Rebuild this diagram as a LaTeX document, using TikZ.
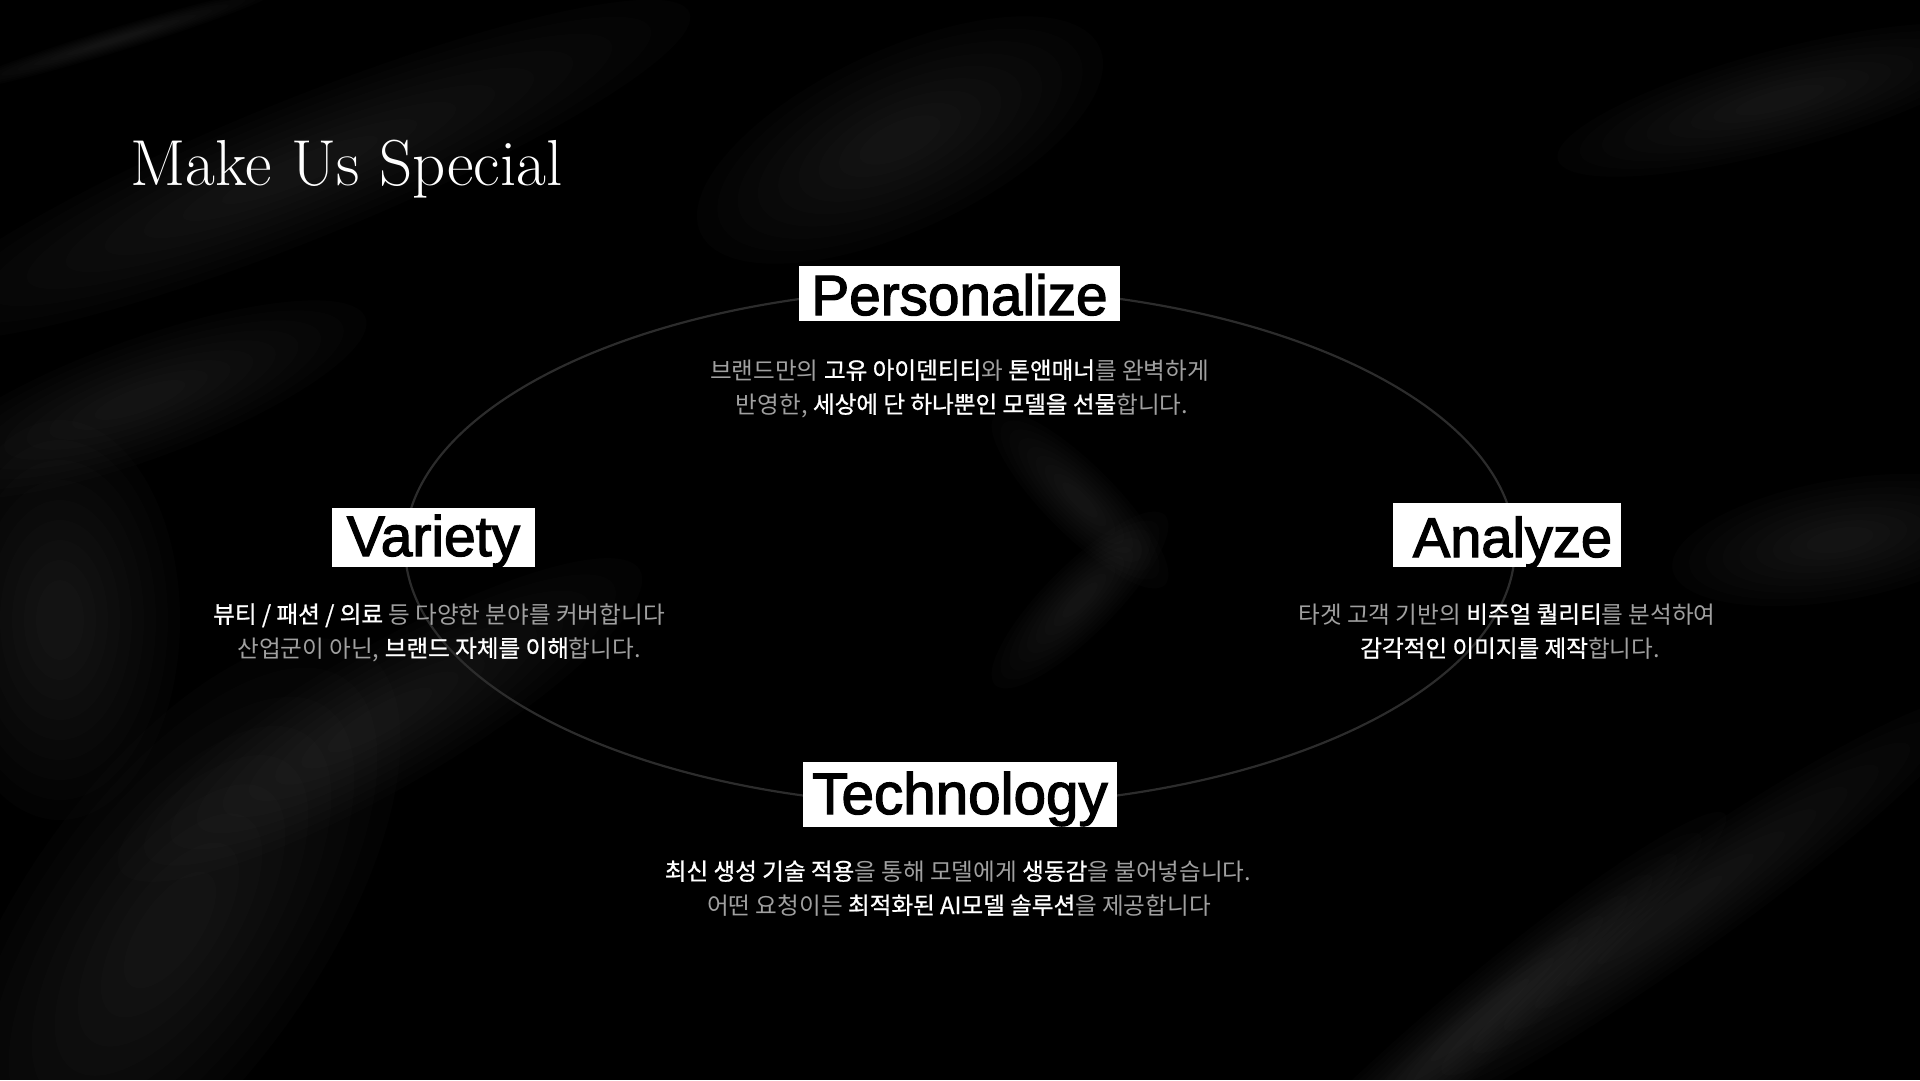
\documentclass[tikz,border=0pt]{standalone}
\usepackage{fontspec}
\newfontfamily\kr{Noto Sans CJK KR}
\newfontfamily\krm{Noto Sans CJK KR}[FakeBold=0.9]
\newfontfamily\hd{Liberation Sans}[FakeBold=2.2]
\definecolor{bodygray}{HTML}{A0A0A0}
\definecolor{ringgray}{HTML}{2C2C2C}
\tikzset{
  hbox/.style={fill=white, text=black, inner xsep=0pt, inner ysep=0pt, anchor=base},
  bodytext/.style={text=bodygray, font=\kr\fontsize{23.6}{28}\selectfont, inner sep=0pt, anchor=base},
  glow/.style={fill=white, opacity=0.011},
}
\newcommand{\hl}[1]{{\krm\color{white}#1}}
\newcommand{\softblob}[5]{%
  \foreach \blobk in {1,0.9,0.8,0.7,0.6,0.5,0.4,0.3,0.2}{%
    \fill[glow, rotate around={#5:(#1,#2)}] (#1,#2) ellipse [x radius=\blobk*#3 pt, y radius=\blobk*#4 pt];
  }}
\begin{document}
\begin{tikzpicture}[x=1pt,y=-1pt]
  \path[use as bounding box, fill=black] (0,0) rectangle (1920,1080);
  % soft satin background
  \softblob{115}{40}{170}{12}{17}
  \softblob{300}{170}{420}{70}{22}
  \softblob{140}{400}{240}{60}{20}
  \softblob{170}{930}{340}{150}{55}
  \softblob{380}{720}{300}{70}{30}
  \softblob{60}{620}{120}{200}{0}
  \softblob{900}{140}{220}{90}{25}
  \softblob{1780}{100}{230}{50}{15}
  \softblob{1840}{540}{170}{60}{10}
  \softblob{1660}{920}{380}{50}{35}
  \softblob{1480}{1020}{320}{40}{40}
  \softblob{1080}{500}{120}{35}{-45}
  \softblob{1080}{600}{120}{35}{45}
  % ring
  \draw[ringgray, line width=2.2pt] (960,547) ellipse [x radius=555pt, y radius=259pt];
  % title
  \node[font=\fontsize{65}{78}\selectfont, text=white, anchor=base west, inner sep=0pt] (title) at (130,185) {Make Us Special};
  % headings
  \node[hbox, font=\hd\fontsize{56.7}{60}\selectfont, minimum width=321pt, text height=49pt, text depth=6pt] (pers) at (959.5,315) {Personalize};
  \node[hbox, font=\hd\fontsize{57}{60}\selectfont, minimum width=203pt, text height=48pt, text depth=11pt] (vari) at (433.5,556) {Variety};
  \node[hbox, font=\hd\fontsize{56}{60}\selectfont, minimum width=228pt, text height=54pt, text depth=10pt] (anal) at (1507,557) {\hspace*{11pt}Analyze};
  \node[hbox, font=\hd\fontsize{58.4}{60}\selectfont, minimum width=314pt, text height=52pt, text depth=13pt] (tech) at (960,814) {Technology};
  % body texts
  \node[bodytext] (pers1) at (959.5,379) {브랜드만의 \hl{고유 아이덴티티}와 \hl{톤앤매너}를 완벽하게};
  \node[bodytext] (pers2) at (962,413) {반영한, \hl{세상에 단 하나뿐인 모델을 선물}합니다.};
  \node[bodytext] (vari1) at (439,623) {\hl{뷰티 / 패션 / 의료} 등 다양한 분야를 커버합니다};
  \node[bodytext] (vari2) at (439,657) {산업군이 아닌, \hl{브랜드 자체를 이해}합니다.};
  \node[bodytext] (anal1) at (1507,623) {타겟 고객 기반의 \hl{비주얼 퀄리티}를 분석하여};
  \node[bodytext] (anal2) at (1510,657) {\hl{감각적인 이미지를 제작}합니다.};
  \node[bodytext] (tech1) at (958,880) {\hl{최신 생성 기술 적용}을 통해 모델에게 \hl{생동감}을 불어넣습니다.};
  \node[bodytext] (tech2) at (959,914) {어떤 요청이든 \hl{최적화된 AI모델 솔루션}을 제공합니다};
\end{tikzpicture}
\end{document}
